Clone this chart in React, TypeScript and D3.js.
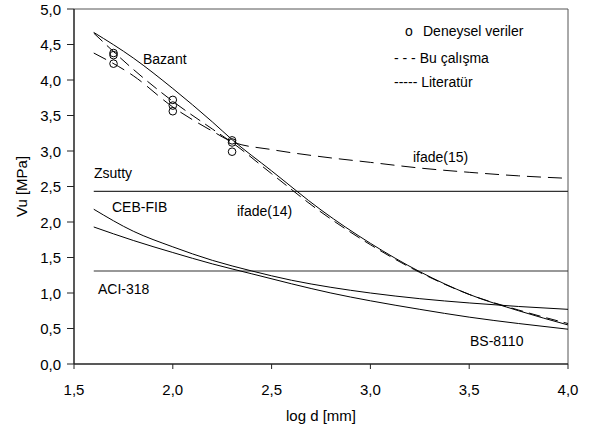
import React from "react";
import * as d3 from "d3";

const xTicks = [1.5, 2.0, 2.5, 3.0, 3.5, 4.0];
const yTicks = [0, 0.5, 1.0, 1.5, 2.0, 2.5, 3.0, 3.5, 4.0, 4.5, 5.0];

const expX = [1.7, 1.7, 1.7, 2.0, 2.0, 2.0, 2.3, 2.3, 2.3];
const expY = [4.38, 4.35, 4.23, 3.72, 3.64, 3.56, 3.15, 3.12, 2.99];

const bazantX = [1.6, 1.8, 2.0, 2.2, 2.3, 2.5, 2.75, 3.0, 3.25, 3.5, 3.75, 4.0];
const bazantY = [4.67, 4.31, 3.88, 3.41, 3.16, 2.72, 2.17, 1.70, 1.30, 0.98, 0.75, 0.55];

const ifade14X = [1.6, 1.8, 2.0, 2.2, 2.3, 2.5, 2.75, 3.0, 3.25, 3.5, 3.75, 4.0];
const ifade14Y = [4.66, 4.15, 3.70, 3.31, 3.12, 2.68, 2.14, 1.68, 1.29, 0.98, 0.76, 0.57];

const ifade15X = [1.6, 1.8, 2.0, 2.2, 2.3, 2.5, 2.75, 3.0, 3.25, 3.5, 3.75, 4.0];
const ifade15Y = [4.38, 4.06, 3.62, 3.28, 3.13, 3.02, 2.92, 2.84, 2.76, 2.70, 2.65, 2.615];

const cebX = [1.6, 1.8, 2.0, 2.2, 2.4, 2.6, 2.8, 3.0, 3.25, 3.5, 3.75, 4.0];
const cebY = [2.18, 1.87, 1.65, 1.46, 1.31, 1.18, 1.08, 1.00, 0.92, 0.86, 0.81, 0.77];

const bsX = [1.6, 1.8, 2.0, 2.2, 2.4, 2.6, 2.8, 3.0, 3.25, 3.5, 3.75, 4.0];
const bsY = [1.93, 1.74, 1.57, 1.41, 1.27, 1.13, 1.00, 0.89, 0.77, 0.66, 0.57, 0.49];

const zsuttyX = [1.6, 4.0];
const zsuttyY = [2.43, 2.43];
const aciX = [1.6, 4.0];
const aciY = [1.31, 1.31];

const FONT = "'Liberation Sans', Arial, sans-serif";

export default function App() {
  const W = 598, H = 431;
  const left = 74, right = 568, top = 9, bottom = 364;
  const x = d3.scaleLinear().domain([1.5, 4.0]).range([left, right]);
  const y = d3.scaleLinear().domain([0, 5]).range([bottom, top]);
  const fmt = (v: number) => v.toFixed(1).replace(".", ",");

  const line = (xs: number[], ys: number[]) =>
    d3.line<number>().x((_, i) => x(xs[i])).y((d) => y(d)).curve(d3.curveMonotoneX)(ys) || "";

  return (
    <svg width={W} height={H} style={{ position: "absolute", left: 0, top: 0, background: "#fff" }} fontFamily={FONT}>
      <rect x={0} y={0} width={W} height={H} fill="#fff" />
      {/* frame */}
      <line x1={left} x2={right} y1={top} y2={top} stroke="#555" strokeWidth={1} />
      <line x1={right} x2={right} y1={top} y2={bottom} stroke="#555" strokeWidth={1} />
      {/* horizontal reference lines */}
      <path d={line(zsuttyX, zsuttyY)} fill="none" stroke="#333" strokeWidth={1.2} />
      <path d={line(aciX, aciY)} fill="none" stroke="#333" strokeWidth={1.2} />
      {/* curves */}
      <path d={line(bazantX, bazantY)} fill="none" stroke="#000" strokeWidth={1} />
      <path d={line(cebX, cebY)} fill="none" stroke="#000" strokeWidth={1} />
      <path d={line(bsX, bsY)} fill="none" stroke="#000" strokeWidth={1} />
      <path d={line(ifade14X, ifade14Y)} fill="none" stroke="#000" strokeWidth={1} strokeDasharray="12,6" />
      <path d={line(ifade15X, ifade15Y)} fill="none" stroke="#000" strokeWidth={1} strokeDasharray="14,7" />
      {/* experimental */}
      {expX.map((v, i) => (
        <circle key={i} cx={x(v)} cy={y(expY[i])} r={3.8} fill="none" stroke="#000" strokeWidth={1} />
      ))}
      {/* axes */}
      <line x1={left} x2={right} y1={bottom} y2={bottom} stroke="#222" strokeWidth={1.5} />
      <line x1={left} x2={left} y1={top} y2={bottom} stroke="#222" strokeWidth={1.5} />
      {xTicks.map((t) => (
        <g key={t}>
          <line x1={x(t)} x2={x(t)} y1={bottom} y2={bottom + 5} stroke="#222" strokeWidth={1} />
          <text x={x(t)} y={395} textAnchor="middle" fontSize={15} fill="#000">{fmt(t)}</text>
        </g>
      ))}
      {yTicks.map((t) => (
        <g key={t}>
          <line x1={left - 7} x2={left} y1={y(t)} y2={y(t)} stroke="#222" strokeWidth={1} />
          <text x={61} y={y(t) + 5.5} textAnchor="end" fontSize={15} fill="#000">{fmt(t)}</text>
        </g>
      ))}
      <text x={(left + right) / 2} y={421} textAnchor="middle" fontSize={15} fill="#000">log d [mm]</text>
      <text transform={`translate(27,${(top + bottom) / 2}) rotate(-90)`} textAnchor="middle" fontSize={15} fill="#000">Vu [MPa]</text>
      {/* labels */}
      <text x={143} y={64} fontSize={14} fill="#000">Bazant</text>
      <text x={94} y={178} fontSize={14} fill="#000">Zsutty</text>
      <text x={112} y={212} fontSize={14} fill="#000">CEB-FIB</text>
      <text x={237} y={216} fontSize={14} fill="#000">ifade(14)</text>
      <text x={413} y={162} fontSize={14} fill="#000">ifade(15)</text>
      <text x={98} y={294} fontSize={14} fill="#000">ACI-318</text>
      <text x={470} y={346} fontSize={14} fill="#000">BS-8110</text>
      {/* legend */}
      <text x={405} y={36} fontSize={14} fill="#000">o</text>
      <text x={423} y={36} fontSize={14} fill="#000">Deneysel veriler</text>
      <text x={394} y={63} fontSize={14} fill="#000">- - - Bu çalışma</text>
      <text x={394} y={87} fontSize={14} fill="#000">----- Literatür</text>
    </svg>
  );
}
